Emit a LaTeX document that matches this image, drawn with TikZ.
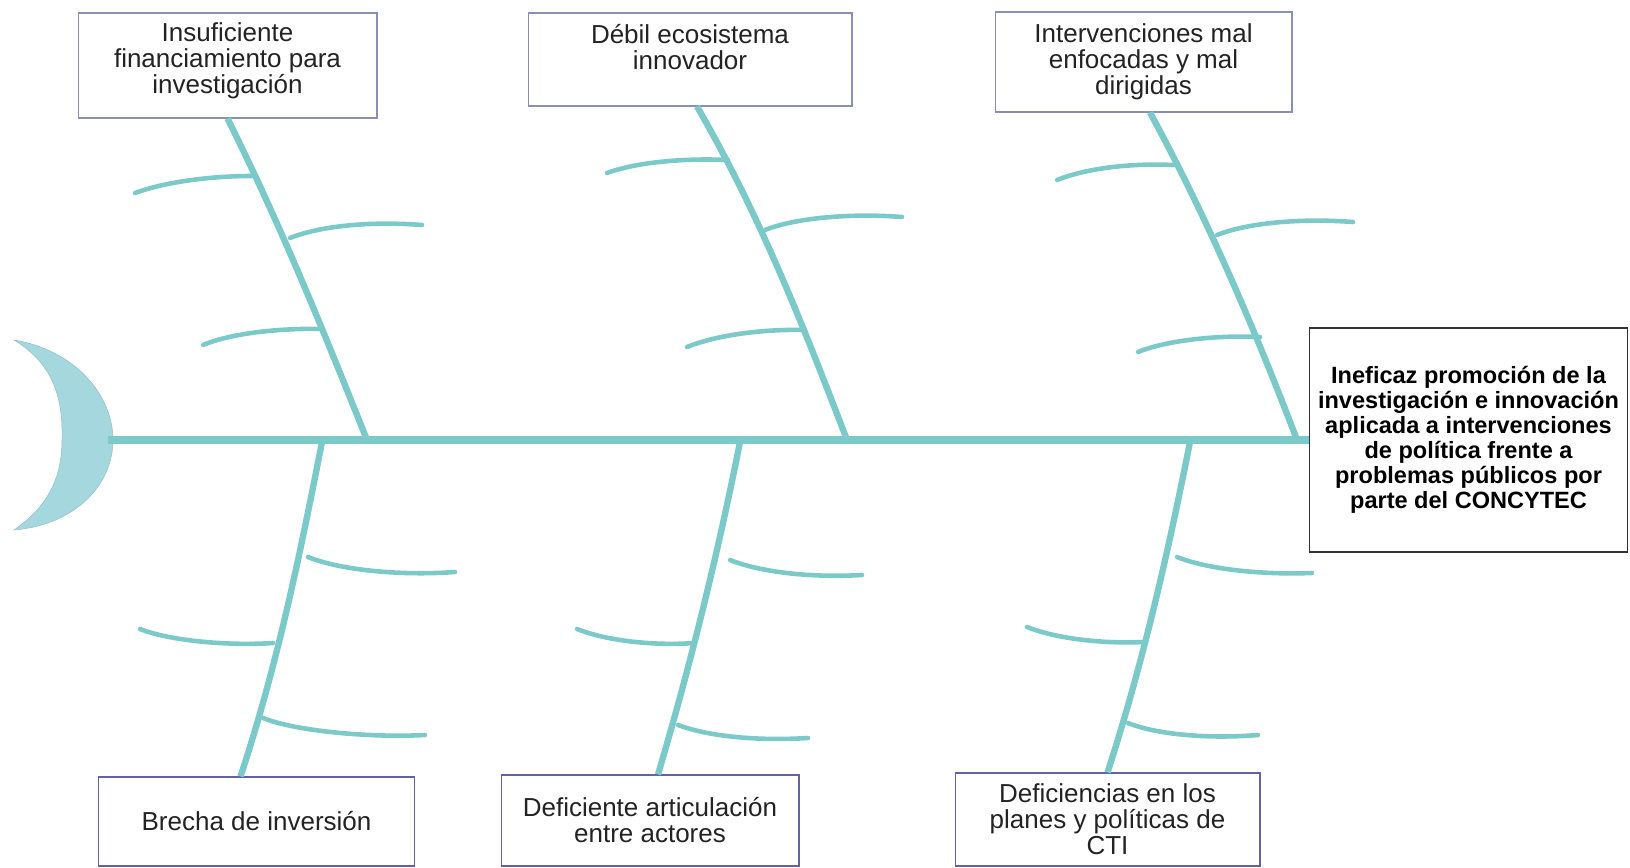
\documentclass[tikz,border=0pt]{standalone}
\usepackage{fontspec}
\setmainfont{Liberation Sans}
\definecolor{bonecol}{RGB}{124,201,202}
\definecolor{headcol}{RGB}{164,216,222}
\definecolor{boxline}{RGB}{140,142,182}
\definecolor{boxlinedark}{RGB}{98,98,165}
\definecolor{txtcol}{RGB}{35,35,35}
\tikzset{
  causebox/.style={draw=boxline, line width=0.6pt, fill=white, align=center, text=txtcol,
    font=\fontsize{14.8}{14.8}\selectfont, inner sep=2pt},
  lowbox/.style={causebox, draw=boxlinedark},
  effectbox/.style={draw=black!80, line width=0.9pt, fill=white, align=center,
    font=\bfseries\fontsize{13.4}{14.2}\selectfont, minimum width=6.36cm, minimum height=4.48cm},
  spine/.style={draw=bonecol, line width=4.6pt},
  rib/.style={draw=bonecol, line width=3.6pt},
  bone/.style={draw=bonecol, line width=2.6pt, line cap=round},
}
\begin{document}
\begin{tikzpicture}[x=0.02cm,y=-0.02cm]
\useasboundingbox (0,0) rectangle (1630,868);

% Drawing the head of the fish
\filldraw [fill=headcol, draw=headcol!90!black, line width=0.3pt]
  (14,340) .. controls (75,350) and (113,395) .. (113,440)
  .. controls (113,485) and (75,525) .. (14,530)
  .. controls (50,505) and (62,475) .. (62,440)
  .. controls (63,400) and (55,365) .. (14,340) -- cycle;
\coordinate (tail) at (108,440);

% Cause boxes above the spine
\node [causebox, minimum width=5.98cm, minimum height=2.10cm, text depth=9pt] (c1) at (227.5,65.5)
  {Insuficiente\\financiamiento para\\investigación};
\node [causebox, minimum width=6.48cm, minimum height=1.86cm] (c2) at (690,59.5)
  {Débil ecosistema\\innovador\\\mbox{}};
\node [causebox, minimum width=5.94cm, minimum height=2.00cm] (c3) at (1143.5,62)
  {Intervenciones mal\\enfocadas y mal\\dirigidas};

% Cause boxes below the spine
\node [lowbox, minimum width=6.34cm, minimum height=1.78cm] (c4) at (256.5,821.5)
  {Brecha de inversión};
\node [lowbox, minimum width=5.96cm, minimum height=1.82cm] (c5) at (650,820.5)
  {Deficiente articulación\\entre actores};
\node [lowbox, minimum width=6.10cm, minimum height=1.86cm] (c6) at (1107.5,819.5)
  {Deficiencias en los\\planes y políticas de\\CTI};

% Effect box
\node [effectbox] (e) at (1468.5,440)
  {Ineficaz promoción de la\\investigación e innovación\\aplicada a intervenciones\\de política frente a\\problemas públicos por\\parte del CONCYTEC};

% Points on the spine
\coordinate (s1) at (367,440);
\coordinate (s2) at (847,440);
\coordinate (s3) at (1297,440);
\coordinate (s4) at (322,442);
\coordinate (s5) at (740,442);
\coordinate (s6) at (1190,442);

% Drawing the spine
\draw [spine] (tail) -- (e.west);

% Drawing the ribs
\draw [rib] (c1.south) .. controls (282,228) and (323,330) .. (s1);
\draw [rib] ([xshift=0.14cm]c2.south) .. controls (761,217) and (804,328) .. (s2);
\draw [rib] ([xshift=0.13cm]c3.south) .. controls (1210,223) and (1259,340) .. (s3);
\draw [rib] (s4) .. controls (300,554) and (278,663) .. ([xshift=-0.32cm]c4.north);
\draw [rib] (s5) .. controls (718,553) and (691,663) .. ([xshift=0.16cm]c5.north);
\draw [rib] (s6) .. controls (1168,553) and (1143,663) .. (c6.north);

% Drawing small bones, upper side
\draw [bone] (135,193) .. controls (165,182) and (210,176) .. (252,176);
\draw [bone] (290,238) .. controls (320,226) and (370,221) .. (422,225);
\draw [bone] (203,345) .. controls (232,333) and (280,328) .. (323,329);
\draw [bone] (607,173) .. controls (637,162) and (685,158) .. (728,160);
\draw [bone] (765,230) .. controls (795,218) and (850,213) .. (902,217);
\draw [bone] (687,347) .. controls (717,335) and (762,329) .. (805,330);
\draw [bone] (1057,180) .. controls (1087,168) and (1132,163) .. (1173,165);
\draw [bone] (1217,235) .. controls (1247,223) and (1300,218) .. (1353,222);
\draw [bone] (1138,352) .. controls (1168,340) and (1218,335) .. (1260,337);

% Drawing small bones, lower side
\draw [bone] (308,557) .. controls (340,570) and (400,576) .. (455,572);
\draw [bone] (140,629) .. controls (170,641) and (230,646) .. (273,643);
\draw [bone] (263,718) .. controls (295,731) and (370,738) .. (425,735);
\draw [bone] (730,560) .. controls (760,572) and (810,578) .. (862,575);
\draw [bone] (577,629) .. controls (607,641) and (655,646) .. (695,643);
\draw [bone] (678,725) .. controls (710,737) and (760,741) .. (808,738);
\draw [bone] (1177,557) .. controls (1207,569) and (1260,575) .. (1312,573);
\draw [bone] (1027,627) .. controls (1057,639) and (1105,644) .. (1143,642);
\draw [bone] (1128,723) .. controls (1158,735) and (1210,739) .. (1258,735);
\end{tikzpicture}
\end{document}
